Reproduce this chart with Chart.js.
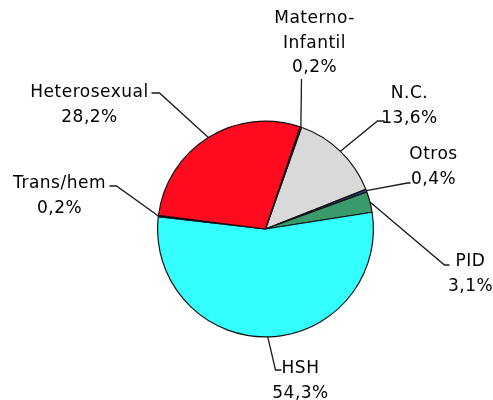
<!DOCTYPE html>
<html><head><meta charset="utf-8">
<script src="https://cdn.jsdelivr.net/npm/chart.js@4"></script>
<style>html,body{margin:0;padding:0;background:#fff;}#wrap{width:493px;height:400px;position:relative}</style>
</head><body><div id="wrap"><canvas id="c" width="493" height="400"></canvas></div>
<script>
const categories = ['N.C.', 'Otros', 'PID', 'HSH', 'Trans/hem', 'Heterosexual', 'Materno-Infantil'];
const labelLines = [['N.C.'], ['Otros'], ['PID'], ['HSH'], ['Trans/hem'], ['Heterosexual'], ['Materno-', 'Infantil']];
const values = [13.6, 0.4, 3.1, 54.3, 0.2, 28.2, 0.2];
const colors = ['#D9D9D9', '#1F4E9A', '#3A9A6C', '#33FFFF', '#9999FF', '#FF0A1E', '#FFFF66'];

// label layout, offsets in px relative to pie centre: elbow, end of leader, text centre x, first baseline
const labelLayout = [
  {elbow: [112, -108], end: [119, -108], tx: 144, ty: -131},
  {elbow: [142, -46], end: [145, -46], tx: 168, ty: -70},
  {elbow: [179, 36], end: [184, 36], tx: 205, ty: 37},
  {elbow: [10, 141], end: [16, 141], tx: 35, ty: 144},
  {elbow: [-149, -43], end: [-156, -43], tx: -206, ty: -41},
  {elbow: [-106, -136], end: [-114, -136], tx: -176, ty: -132},
  {elbow: [36, -150], end: [36, -150], tx: 49, ty: -206}
];
const lineHeight = 24.5;

const labelPlugin = {
  id: 'pieLabels',
  afterDatasetsDraw(chart) {
    const ctx = chart.ctx;
    const meta = chart.getDatasetMeta(0);
    ctx.save();
    meta.data.forEach((arc, i) => {
      const p = arc.getProps(['x', 'y', 'startAngle', 'endAngle', 'outerRadius'], true);
      const mid = (p.startAngle + p.endAngle) / 2;
      const ax = p.x + Math.cos(mid) * p.outerRadius;
      const ay = p.y + Math.sin(mid) * p.outerRadius;
      const L = labelLayout[i];
      ctx.strokeStyle = '#1a1a1a';
      ctx.lineWidth = 1.3;
      ctx.beginPath();
      ctx.moveTo(ax, ay);
      ctx.lineTo(p.x + L.elbow[0], p.y + L.elbow[1]);
      ctx.lineTo(p.x + L.end[0], p.y + L.end[1]);
      ctx.stroke();
      ctx.fillStyle = '#000';
      ctx.font = '17px "DejaVu Sans"';
      ctx.letterSpacing = '0.5px';
      ctx.textAlign = 'center';
      ctx.textBaseline = 'alphabetic';
      const lines = labelLines[i].concat([values[i].toFixed(1).replace('.', ',') + '%']);
      lines.forEach((t, k) => {
        ctx.fillText(t, p.x + L.tx, p.y + L.ty + k * lineHeight);
      });
    });
    ctx.restore();
  }
};

new Chart(document.getElementById('c'), {
  type: 'pie',
  data: {
    labels: categories,
    datasets: [{
      data: values,
      backgroundColor: colors,
      borderColor: '#111',
      borderWidth: 1.2
    }]
  },
  options: {
    responsive: false,
    animation: false,
    rotation: 19.5,
    layout: {padding: {left: 157, right: 119, top: 120, bottom: 62}},
    plugins: {legend: {display: false}, tooltip: {enabled: false}}
  },
  plugins: [labelPlugin]
});
</script>
</body></html>
